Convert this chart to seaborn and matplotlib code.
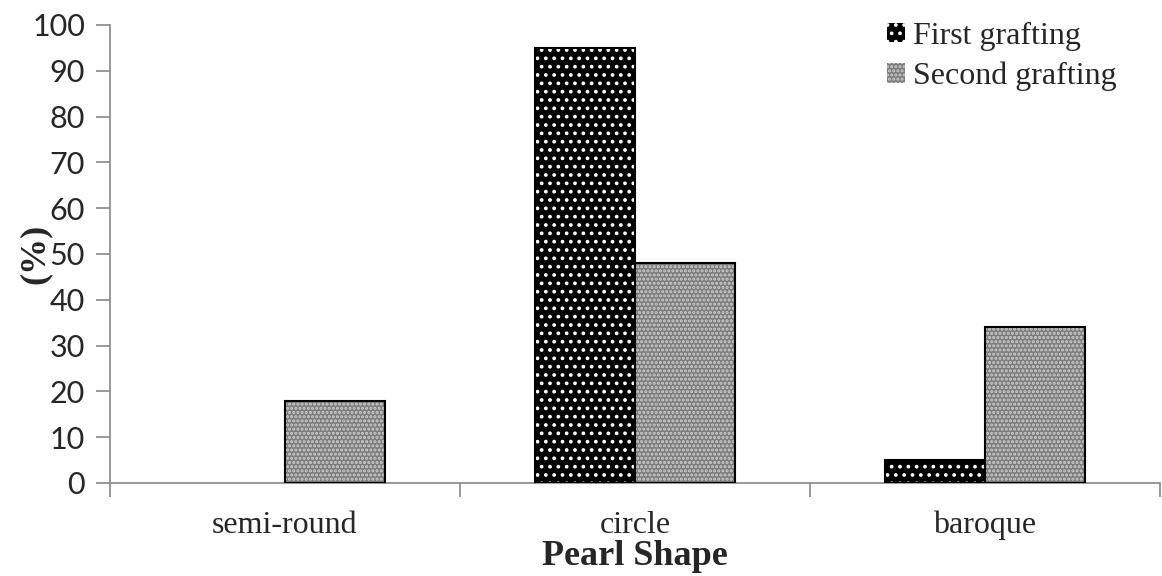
import numpy as np
import pandas as pd
import seaborn as sns
from matplotlib import pyplot as plt
from matplotlib.patches import Rectangle

shapes = ["semi-round", "circle", "baroque"]
first_grafting = [0, 95, 5]
second_grafting = [18, 48, 34]
series_names = ["First grafting", "Second grafting"]

df = pd.DataFrame({
    "shape": shapes * 2,
    "pct": first_grafting + second_grafting,
    "series": [series_names[0]] * 3 + [series_names[1]] * 3,
})

sns.set_style("white")
plt.rcParams["hatch.linewidth"] = 1.5

fig = plt.figure(figsize=(11.62, 5.76), dpi=100)
ax = fig.add_axes([0.0947, 0.1615, 0.9033, 0.7951])

sns.barplot(data=df, x="shape", y="pct", hue="series", ax=ax,
            palette=["black", "#8a8a8a"], width=0.572, gap=0,
            saturation=1, legend=False)

# patterned fills: black with white dots, gray with a fine checker
styles = [("black", "white", ".."), ("#7c7c7c", "#cfcfcf", "....")]
for i, bar in enumerate(ax.patches[:6]):
    face, hcol, hatch = styles[i // 3]
    bar.set_facecolor(face)
    bar.set_edgecolor(hcol)
    bar.set_hatch(hatch)
    bar.set_linewidth(0)
    if bar.get_height() > 0:
        ax.add_patch(Rectangle((bar.get_x(), bar.get_y()), bar.get_width(),
                               bar.get_height(), fill=False,
                               edgecolor="black", linewidth=1.5, zorder=3))

ax.set_xlim(-0.5, 2.5)
ax.set_ylim(0, 100)
ax.set_yticks(range(0, 101, 10))
ax.set_xticks([-0.5, 0.5, 1.5, 2.5], minor=True)
ax.tick_params(axis="x", which="major", length=0, pad=20)
ax.tick_params(axis="x", which="minor", length=10, color="#888888", width=1.2,
               direction="out", bottom=True)
ax.tick_params(axis="y", length=10, color="#888888", width=1.2,
               direction="out", left=True, pad=8)
for lab in ax.get_yticklabels():
    lab.set_fontfamily("Lato")
    lab.set_fontsize(22)
for lab in ax.get_xticklabels():
    lab.set_fontfamily("Liberation Serif")
    lab.set_fontsize(23)

sns.despine(ax=ax)
for side in ["left", "bottom"]:
    ax.spines[side].set_color("#888888")
    ax.spines[side].set_linewidth(1.2)

ax.set_xlabel("Pearl Shape", fontfamily="Liberation Serif", fontsize=26,
              fontweight="bold", labelpad=0)
ax.set_ylabel("(%)", fontfamily="Liberation Serif", fontsize=26,
              fontweight="bold", labelpad=-14)

handles = [Rectangle((0, 0), 1, 1, facecolor=f, edgecolor=h, hatch=ht,
                     linewidth=0) for f, h, ht in styles]
ax.legend(handles, series_names, loc="upper right", frameon=False,
          bbox_to_anchor=(0.986, 1.07), handlelength=0.55, handleheight=0.55,
          handletextpad=0.25, labelspacing=0.35,
          prop={"family": "Liberation Serif", "size": 23})

plt.savefig("out.png", dpi=100)
